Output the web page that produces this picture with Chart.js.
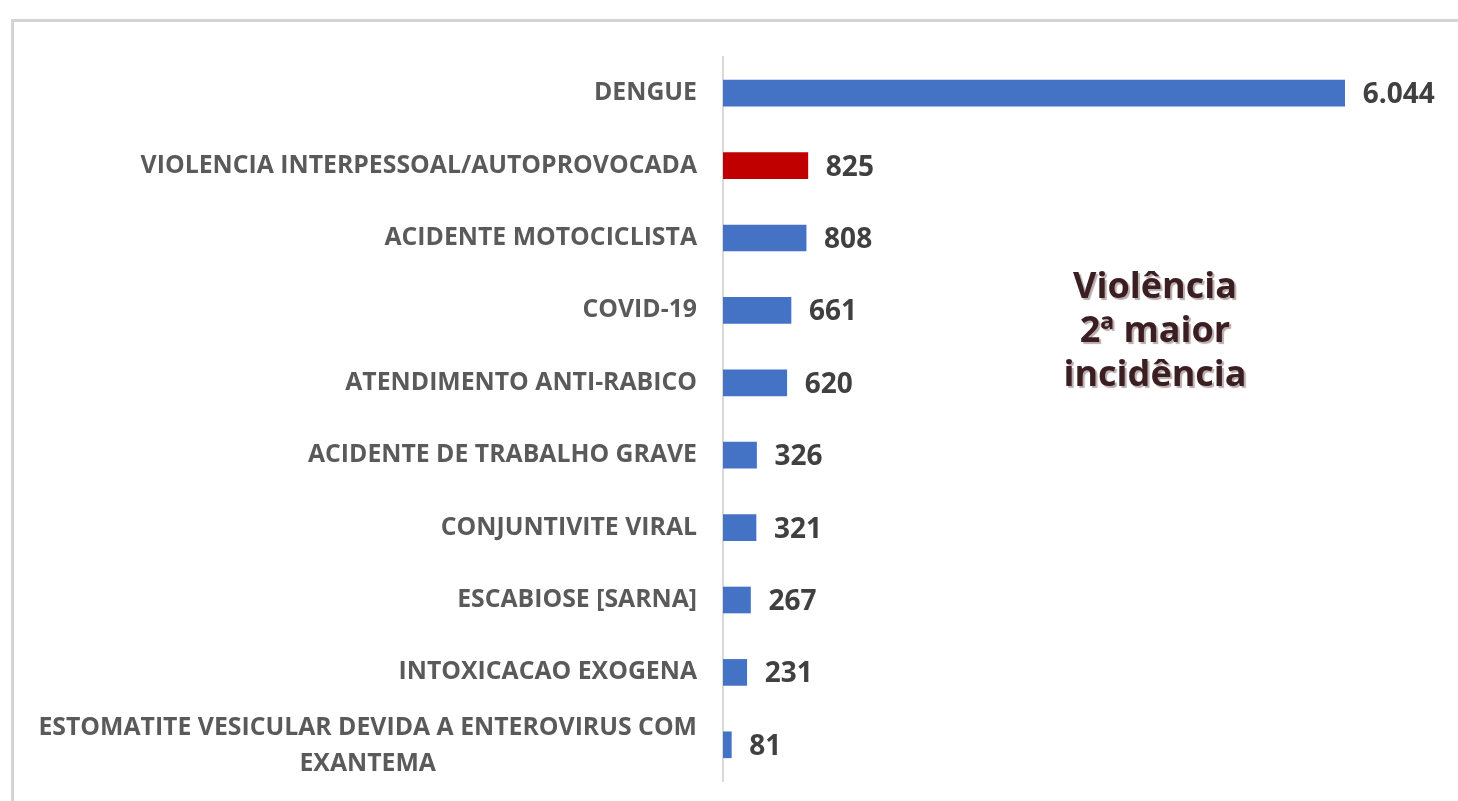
<!DOCTYPE html>
<html>
<head>
<meta charset="utf-8">
<script src="https://cdn.jsdelivr.net/npm/chart.js@4/dist/chart.umd.min.js"></script>
<style>
  html, body { margin: 0; padding: 0; background: #fff; }
  #wrap { position: relative; width: 1458px; height: 801px; overflow: hidden; }
  #frame { position: absolute; left: 11px; top: 19px; right: -10px; bottom: -10px;
           border-top: 3px solid #d4d4d4; border-left: 3px solid #d4d4d4; }
  #chart { position: absolute; left: 0; top: 0; }
  #note { position: absolute; left: 1005px; top: 263px; width: 300px; text-align: center;
          font-family: "Open Sans", sans-serif; font-weight: 700; font-size: 36px;
          line-height: 44px; color: #3b1e22; text-shadow: 2px 2px 1px #b9acad; }
</style>
</head>
<body>
<div id="wrap">
  <div id="frame"></div>
  <canvas id="chart" width="1458" height="801"></canvas>
  <div id="note">Violência<br>2ª maior<br>incidência</div>
</div>
<script>
const categorias = [
    "DENGUE",
    "VIOLENCIA INTERPESSOAL/AUTOPROVOCADA",
    "ACIDENTE MOTOCICLISTA",
    "COVID-19",
    "ATENDIMENTO ANTI-RABICO",
    "ACIDENTE DE TRABALHO GRAVE",
    "CONJUNTIVITE VIRAL",
    "ESCABIOSE [SARNA]",
    "INTOXICACAO EXOGENA",
    ["ESTOMATITE VESICULAR DEVIDA A ENTEROVIRUS COM", "EXANTEMA"]
];
const casos = [6044, 825, 808, 661, 620, 326, 321, 267, 231, 81];
const cores = ["#4472C4", "#C00000", "#4472C4", "#4472C4", "#4472C4",
               "#4472C4", "#4472C4", "#4472C4", "#4472C4", "#4472C4"];

function milhar(v) {
    return String(v).replace(/\B(?=(\d{3})+(?!\d))/g, ".");
}

// rotulos das categorias e valores
const rotulos = {
    id: "rotulos",
    afterDraw(chart) {
        const ctx = chart.ctx;
        const y = chart.scales.y;
        const x = chart.scales.x;
        ctx.save();
        ctx.textBaseline = "middle";
        categorias.forEach((c, i) => {
            const py = y.getPixelForValue(i);
            ctx.font = "700 24.8px 'Open Sans'";
            ctx.fillStyle = "#5a5a5a";
            const right = y.right - 26;
            if (Array.isArray(c)) {
                const w = Math.max(...c.map(l => ctx.measureText(l).width));
                ctx.textAlign = "center";
                c.forEach((l, k) => {
                    ctx.fillText(l, right - w / 2, py + 1 + (k - (c.length - 1) / 2) * 36);
                });
            } else {
                ctx.textAlign = "right";
                ctx.fillText(c, right, py);
            }
            ctx.font = "700 28px 'Open Sans'";
            ctx.fillStyle = "#404040";
            ctx.textAlign = "left";
            ctx.fillText(milhar(casos[i]), x.getPixelForValue(casos[i]) + 18, py + 2);
        });
        ctx.restore();
    }
};

new Chart(document.getElementById("chart"), {
    type: "bar",
    data: {
        labels: categorias,
        datasets: [{
            data: casos,
            backgroundColor: cores,
            barThickness: 26
        }]
    },
    options: {
        indexAxis: "y",
        responsive: false,
        animation: false,
        layout: { padding: { left: 0, right: 15, top: 57, bottom: 20 } },
        plugins: {
            legend: { display: false },
            tooltip: { enabled: false }
        },
        scales: {
            x: { display: false, min: 0, max: 7000 },
            y: {
                afterFit: (s) => { s.width = 723; },
                ticks: { display: false },
                grid: { drawOnChartArea: false, drawTicks: false },
                border: { display: true, color: "#d9d9d9", width: 2 }
            }
        }
    },
    plugins: [rotulos]
});
</script>
</body>
</html>
